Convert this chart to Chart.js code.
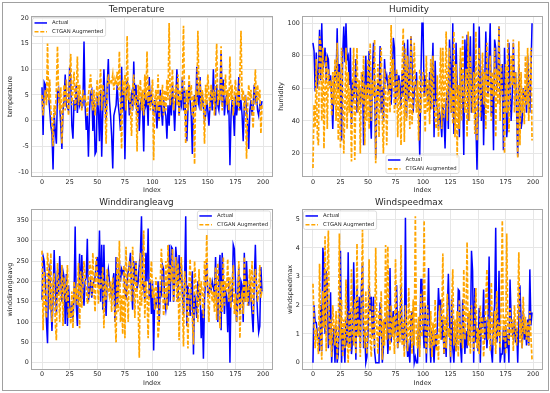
<!DOCTYPE html>
<html><head><meta charset="utf-8">
<script src="https://cdn.jsdelivr.net/npm/chart.js@4"></script>
<style>
html,body{margin:0;padding:0;background:#fff;}
body{width:550px;height:393px;position:relative;overflow:hidden;}
#frame{position:absolute;left:2px;top:2px;width:545px;height:387px;border:1px solid #a0a0a0;}
canvas{position:absolute;}
</style></head><body>
<div id="frame"></div>
<canvas id="c1" width="275" height="196" style="left:0;top:0"></canvas>
<canvas id="c2" width="275" height="196" style="left:275px;top:0"></canvas>
<canvas id="c3" width="275" height="197" style="left:0;top:196px"></canvas>
<canvas id="c4" width="275" height="197" style="left:275px;top:196px"></canvas>
<script>
const xTicks = [0, 25, 50, 75, 100, 125, 150, 175, 200];
const tempTicks = [-10, -5, 0, 5, 10, 15, 20];
const humTicks = [20, 40, 60, 80, 100];
const wdTicks = [0, 50, 100, 150, 200, 250, 300, 350];
const wsTicks = [0, 1, 2, 3, 4, 5];
const seriesNames = ['Actual', 'CTGAN Augmented'];

const tempActual = [
6.5,-2.8,7.5,7.0,4.5,5.0,4.8,2.0,-1.0,-2.5,
-9.5,1.5,-2.0,-4.5,5.5,6.2,3.0,-1.0,-5.5,2.0,
4.0,9.0,3.0,2.5,2.0,10.5,8.0,-1.0,-3.5,4.0,
2.0,7.0,1.5,5.0,3.0,4.0,2.5,3.0,15.4,3.0,
-1.8,1.0,-7.0,2.0,5.5,6.0,-2.0,4.0,-6.5,-6.0,
5.0,2.0,-4.0,6.0,-7.0,2.0,10.0,4.0,0.0,7.0,
12.0,4.0,1.0,-3.0,-9.3,1.0,2.0,3.0,7.0,3.0,
1.0,-2.0,10.5,2.0,6.0,-7.5,4.0,8.0,6.0,1.0,
3.5,5.0,2.0,11.5,4.0,7.0,1.0,5.0,-2.0,3.0,
4.5,2.0,-6.0,6.0,3.0,4.0,-1.0,8.5,3.0,5.0,
3.0,1.0,4.0,2.0,-1.5,3.0,0.0,6.0,2.0,-1.0,
4.0,2.0,1.0,-3.5,3.0,-1.0,5.0,1.0,7.0,3.0,
-2.0,4.0,10.0,6.0,1.0,4.0,3.0,8.5,2.0,6.0,
0.0,-4.0,2.0,7.0,4.0,1.0,-6.5,3.0,5.0,2.0,
10.5,4.0,3.0,8.5,2.0,5.0,3.0,0.0,1.0,4.0,
2.0,-1.0,3.0,6.0,2.0,10.0,4.0,1.0,7.0,3.0,
2.0,5.0,13.5,3.0,8.0,1.0,4.0,5.0,2.0,3.0,
-8.7,1.0,4.0,2.0,-3.0,5.0,1.0,3.0,8.5,2.0,
4.0,1.0,-4.0,3.0,5.0,2.0,0.0,-5.5,2.0,4.0,
1.0,3.0,7.0,4.0,5.0,2.0,1.0,3.0,2.5,3.8];
const tempGan = [
5.0,1.0,4.0,6.0,3.0,15.0,4.0,8.0,2.0,0.0,
-5.0,3.0,1.0,6.0,14.5,5.0,2.0,6.5,-4.5,3.0,
7.0,2.0,8.0,4.0,1.0,9.0,13.0,3.0,6.0,9.5,
2.0,5.0,12.5,3.0,7.0,4.0,2.0,6.0,4.0,5.0,
3.0,1.0,5.0,7.0,9.0,4.0,2.0,6.0,1.0,4.5,
8.0,3.0,6.0,10.0,2.0,7.0,5.0,3.0,-4.5,6.0,
9.0,7.0,8.0,7.5,9.0,6.0,8.0,7.0,9.5,6.0,
13.5,3.0,-5.5,8.0,5.0,9.0,2.0,16.5,4.0,7.0,
2.0,-3.0,6.0,9.0,3.0,5.0,-6.0,7.0,4.0,8.0,
2.0,6.0,1.0,9.0,4.0,13.5,3.0,7.0,2.0,5.0,
8.0,-7.7,4.0,6.0,2.0,9.0,0.0,5.0,3.0,7.0,
1.0,6.0,2.0,8.0,4.0,19.0,3.0,6.0,10.0,2.0,
5.0,7.0,3.0,9.0,1.0,6.0,4.0,8.0,18.5,3.0,
-4.5,6.0,2.0,9.0,4.0,7.0,1.0,5.0,-8.5,6.0,
3.0,17.5,5.0,8.0,2.0,6.0,4.0,-4.5,7.0,3.0,
9.0,5.0,2.0,7.0,4.0,6.0,1.0,8.0,15.0,3.0,
6.0,4.0,14.5,2.0,7.0,5.0,9.0,3.0,6.0,2.0,
12.5,4.0,7.0,1.0,5.0,8.0,3.0,6.0,2.0,9.0,
17.5,4.0,6.0,2.0,5.0,-7.4,3.0,7.0,4.0,6.0,
2.0,-1.5,5.0,10.0,3.0,7.0,4.0,6.0,-2.5,3.0];

const humActual = [
88,83,58,82,60,70,96,65,100,70,
78,85,64,80,78,62,68,55,35,60,
72,65,97,58,75,62,28,80,98,76,
100,78,80,62,85,38,65,55,60,78,
45,55,62,50,58,70,25,60,80,55,
62,83,45,29,70,88,62,17,50,65,
55,86,45,60,40,78,65,68,62,57,
70,50,65,91,85,50,70,55,68,62,
48,70,55,88,60,42,90,53,65,92,
75,45,58,62,70,55,48,18,65,100,
100,55,68,58,60,50,70,47,65,88,
30,77,52,48,35,45,40,30,50,42,
23,52,58,35,90,75,45,100,32,45,
88,60,53,30,78,70,55,19,90,65,
93,40,70,92,45,55,100,50,38,10,
45,98,60,40,72,25,60,95,70,55,
80,100,43,65,22,90,85,58,70,98,
50,65,75,22,85,62,30,40,88,60,
40,55,88,62,70,45,18,75,50,35,
40,60,55,58,45,80,60,45,70,100];
const humGan = [
11,50,36,78,30,25,92,88,40,85,
23,60,80,35,72,60,65,43,70,50,
78,40,88,28,70,23,85,60,20,48,
85,35,70,45,60,15,60,85,16,60,
85,45,65,20,70,50,80,25,62,40,
78,35,88,40,65,55,90,14,55,75,
30,65,85,40,20,72,60,25,55,68,
45,99,60,78,45,55,72,30,65,50,
25,72,97,27,85,40,80,65,35,92,
38,55,88,60,45,65,28,72,45,60,
70,52,33,80,45,65,38,78,47,80,
55,41,35,68,30,55,85,35,85,42,
60,95,40,70,85,45,60,38,95,30,
75,17,62,35,85,40,92,55,45,72,
30,95,40,80,60,45,70,32,95,28,
65,85,42,60,82,50,70,35,88,45,
62,80,40,70,55,85,30,72,50,98,
40,75,60,50,20,75,45,90,33,55,
80,62,90,45,70,55,17,89,25,70,
45,60,38,80,50,85,40,65,85,28];

const wdActual = [
155,262,250,205,100,48,220,235,150,78,
160,277,190,120,230,165,262,200,150,225,
210,95,218,90,190,140,110,150,100,170,
335,140,90,180,268,150,265,190,140,200,
210,305,150,180,200,160,190,200,210,240,
260,190,325,150,290,130,290,160,115,210,
230,200,180,160,200,220,100,260,140,180,
250,200,230,220,230,180,155,200,225,240,
270,180,130,250,200,250,180,200,240,270,
360,180,200,150,270,200,330,160,200,120,
200,30,160,140,150,200,100,180,170,240,
230,150,130,160,140,290,150,285,280,150,
200,285,250,150,265,200,245,170,120,200,
360,90,190,160,115,180,225,20,170,145,
110,200,150,180,60,130,10,155,210,245,
165,170,190,180,200,185,170,260,140,100,
220,265,80,270,200,120,180,160,75,200,
0,180,150,290,280,200,100,160,235,120,
200,190,100,270,150,250,180,140,200,160,
120,75,200,290,180,120,75,90,235,175];
const wdGan = [
275,80,225,140,110,270,230,130,270,100,
185,220,100,55,245,200,100,175,240,90,
210,180,150,240,110,125,95,175,85,200,
160,180,140,245,85,225,135,190,250,205,
185,145,155,250,230,165,270,180,125,260,
220,145,215,180,195,235,85,200,155,230,
180,165,200,125,210,170,110,50,260,125,
300,100,165,70,240,60,285,180,100,250,
230,150,285,200,110,250,170,140,12,270,
140,200,325,110,200,170,60,190,210,250,
160,185,130,210,170,60,95,200,280,205,
115,150,250,130,290,170,240,200,280,150,
200,260,150,245,55,200,260,150,40,225,
190,160,35,195,255,140,110,45,250,200,
160,100,230,140,200,170,110,250,185,315,
165,100,210,185,150,175,125,235,105,245,
160,85,200,125,260,140,200,175,255,150,
210,135,200,240,120,170,100,150,250,60,
155,170,120,260,150,200,140,180,230,150,
250,120,190,230,200,150,175,240,160,180];

const wsActual = [
0,2.0,1.4,1.4,1.0,0.8,0.4,2.0,0.4,4.0,
3.5,1.0,3.2,2.8,0.5,1.2,2.45,0.0,0.8,1.2,
0.0,1.3,0.0,0.3,1.5,3.9,0.0,1.2,0.7,0.0,
1.5,0.6,3.85,0.6,1.8,0.3,0.8,3.5,1.7,0.1,
2.6,1.0,2.3,0.5,2.6,3.5,0.5,1.2,0.0,0.2,
1.0,2.7,1.8,2.3,0.9,2.3,0.4,0.0,0.0,0.0,
0.0,2.1,1.5,0.0,0.5,1.5,1.2,1.8,0.3,1.0,
3.3,0.7,1.5,1.8,1.0,1.2,2.7,0.5,1.4,1.1,
2.7,0.8,1.2,0.5,5.05,0.8,0.2,0.5,0.0,1.5,
1.8,1.0,0.0,0.2,0.0,0.0,1.5,0.6,2.9,2.9,
1.2,0.5,2.0,0.0,1.4,3.3,1.0,0.0,1.1,0.6,
0.0,1.0,0.5,1.3,2.6,1.8,2.2,0.8,1.5,0.3,
1.0,0.2,1.8,3.1,1.5,0.0,2.2,0.5,0.0,1.0,
0.4,1.0,2.55,2.5,0.6,0.0,2.2,1.2,0.3,1.1,
0.5,1.6,1.0,0.8,3.9,3.2,0.0,2.6,0.7,1.2,
0.4,1.9,0.0,1.6,1.2,2.55,0.8,1.5,0.5,1.2,
3.7,1.0,0.4,0.0,1.5,2.0,4.7,0.7,1.2,3.2,
0.0,0.3,0.3,1.2,0.0,1.3,0.5,1.0,0.0,2.9,
1.6,1.2,0.8,1.5,0.7,1.2,0.0,1.6,2.7,1.5,
0.5,1.8,0.8,1.2,0.6,1.5,0.6,3.25,1.3,1.75];
const wsGan = [
2.75,1.5,0.5,1.2,0.8,0.3,3.45,1.0,0.1,2.5,
1.2,4.4,0.4,3.0,4.6,0.6,1.5,0.2,2.0,1.3,
0.6,1.8,0.1,1.0,4.5,0.8,2.2,0.2,1.5,0.5,
2.9,0.9,0.0,1.8,0.4,3.25,1.0,0.6,2.2,0.3,
4.15,0.9,1.5,0.2,2.0,4.65,1.2,0.5,2.5,0.3,
1.5,3.6,0.8,0.2,2.0,1.0,0.5,4.0,1.2,0.3,
1.8,0.9,2.5,0.1,1.5,0.6,4.1,0.8,4.05,1.2,
0.4,2.0,0.9,1.6,0.3,3.6,1.0,0.5,1.8,0.7,
4.1,0.6,1.5,0.2,2.0,1.1,0.4,2.6,0.8,1.8,
0.3,2.2,0.6,5.1,1.0,0.5,1.6,0.2,2.4,0.9,
1.5,4.95,0.8,0.3,2.0,1.2,0.5,1.8,0.2,1.4,
0.6,2.2,0.4,1.0,0.1,2.0,0.8,1.5,3.8,0.3,
1.6,0.5,2.4,0.9,1.2,0.2,2.0,3.25,0.6,1.5,
0.4,1.8,0.2,2.2,0.7,1.3,0.5,3.25,0.8,1.6,
4.2,0.6,1.8,0.3,2.0,1.0,0.4,1.5,2.6,0.5,
1.2,0.3,2.0,0.9,1.6,0.2,1.0,2.2,3.25,0.8,
1.5,0.4,2.8,1.0,0.6,1.8,0.3,2.5,0.9,1.4,
0.5,2.2,4.95,0.8,1.6,0.3,4.5,1.0,0.6,1.9,
0.9,1.5,0.4,2.0,1.2,0.6,1.8,3.85,0.7,1.5,
0.5,2.3,1.0,1.6,0.8,1.4,0.6,1.8,0.9,0.1];

const FONT = '"DejaVu Sans", sans-serif';
const TXT = '#262626';

const decoPlugin = {
  id: 'deco',
  afterDatasetsDraw(chart) {
    const ctx = chart.ctx, ca = chart.chartArea;
    ctx.save();
    ctx.strokeStyle = '#a8a8a8';
    ctx.lineWidth = 1;
    ctx.strokeRect(Math.round(ca.left) + 0.5, Math.round(ca.top) + 0.5,
                   Math.round(ca.right - ca.left) - 1, Math.round(ca.bottom - ca.top) - 1);
    const lg = chart.options.plugins.boxLegend;
    if (lg) {
      ctx.font = '5.3px ' + FONT;
      let tw = 0;
      seriesNames.forEach(n => { tw = Math.max(tw, ctx.measureText(n).width); });
      const w = 19.5 + tw + 2.5, h = 18.5;
      let x, y;
      if (lg.pos === 'ul') { x = ca.left + 1.5; y = ca.top + 2; }
      else if (lg.pos === 'ur') { x = ca.right - 2.5 - w; y = ca.top + 2; }
      else { x = (ca.left + ca.right) / 2 - w / 2; y = ca.bottom - 3.5 - h; }
      ctx.beginPath();
      if (ctx.roundRect) ctx.roundRect(x, y, w, h, 2); else ctx.rect(x, y, w, h);
      ctx.fillStyle = 'rgba(255,255,255,0.8)';
      ctx.fill();
      ctx.strokeStyle = '#d4d4d4';
      ctx.lineWidth = 0.8;
      ctx.stroke();
      const ds = chart.data.datasets;
      const rows = [5, 13.8];
      ds.forEach((d, i) => {
        const yy = y + rows[i];
        ctx.beginPath();
        ctx.setLineDash(d.borderDash || []);
        ctx.strokeStyle = d.borderColor;
        ctx.lineWidth = d.borderWidth;
        ctx.moveTo(x + 2, yy); ctx.lineTo(x + 14.5, yy);
        ctx.stroke();
        ctx.setLineDash([]);
        ctx.fillStyle = TXT;
        ctx.textBaseline = 'middle';
        ctx.textAlign = 'left';
        ctx.fillText(d.label, x + 19.5, yy);
      });
    }
    ctx.restore();
  }
};

function makePanel(id, cfg) {
  const pts = arr => arr.map((v, i) => ({x: i, y: v}));
  new Chart(document.getElementById(id), {
    type: 'line',
    data: {
      datasets: [
        {label: seriesNames[0], data: pts(cfg.actual), borderColor: '#0000ff', borderWidth: 1.5,
         pointRadius: 0, tension: 0, order: 1, fill: false},
        {label: seriesNames[1], data: pts(cfg.gan), borderColor: '#ffa500', borderWidth: 1.7,
         borderDash: [4, 1.8], pointRadius: 0, tension: 0, order: 0, fill: false}
      ]
    },
    options: {
      responsive: false, animation: false, devicePixelRatio: 1,
      layout: {padding: {left: 0, top: 0, right: cfg.padRight, bottom: 0}},
      plugins: {
        legend: {display: false}, tooltip: {enabled: false},
        title: {display: true, text: cfg.title, color: TXT,
                font: {family: FONT, size: 8.8, weight: 'normal', lineHeight: 1.2},
                padding: {top: cfg.titleTop, bottom: cfg.titleBottom}},
        boxLegend: {pos: cfg.legend}
      },
      scales: {
        x: {
          type: 'linear', min: -9.95, max: 208.95,
          afterBuildTicks: s => { s.ticks = xTicks.map(v => ({value: v})); },
          afterFit: s => { s.height = cfg.xHeight; },
          grid: {color: '#e6e6e6', lineWidth: 1, drawTicks: false},
          border: {display: false},
          ticks: {color: TXT, font: {family: FONT, size: 6.4, lineHeight: 1.2}, padding: cfg.xTickPad,
                  maxRotation: 0, autoSkip: false},
          title: {display: true, text: 'Index', color: TXT,
                  font: {family: FONT, size: 6.5, lineHeight: 1.2}, padding: {top: 0, bottom: cfg.xTitlePad}}
        },
        y: {
          type: 'linear', min: cfg.yMin, max: cfg.yMax,
          afterBuildTicks: s => { s.ticks = cfg.yTicks.map(v => ({value: v})); },
          afterFit: s => { s.width = cfg.yWidth; },
          grid: {color: '#e6e6e6', lineWidth: 1, drawTicks: false},
          border: {display: false},
          ticks: {color: TXT, font: {family: FONT, size: 6.4, lineHeight: 1.2}, padding: 2.2, autoSkip: false},
          title: {display: true, text: cfg.yTitle, color: TXT,
                  font: {family: FONT, size: 6.5, lineHeight: 1.2}, padding: {top: cfg.yTitlePad, bottom: 0}}
        }
      }
    },
    plugins: [decoPlugin]
  });
}

makePanel('c1', {title: 'Temperature', yTitle: 'temperature', actual: tempActual, gan: tempGan,
  yMin: -10.97, yMax: 20.39, yTicks: tempTicks, yWidth: 31, padRight: 2, xHeight: 19,
  titleTop: 4.5, titleBottom: 0.9, xTickPad: 1.2, xTitlePad: 2.1, yTitlePad: 6.1, legend: 'ul'});
makePanel('c2', {title: 'Humidity', yTitle: 'humidity', actual: humActual, gan: humGan,
  yMin: 5.5, yMax: 104.5, yTicks: humTicks, yWidth: 27, padRight: 7, xHeight: 19,
  titleTop: 4.5, titleBottom: 0.9, xTickPad: 1.2, xTitlePad: 2.1, yTitlePad: 2.1, legend: 'lc'});
makePanel('c3', {title: 'Winddirangleavg', yTitle: 'winddirangleavg', actual: wdActual, gan: wdGan,
  yMin: -18, yMax: 378, yTicks: wdTicks, yWidth: 31, padRight: 2, xHeight: 23,
  titleTop: 1.5, titleBottom: 0.9, xTickPad: 0.8, xTitlePad: 6.1, yTitlePad: 6.1, legend: 'ur'});
makePanel('c4', {title: 'Windspeedmax', yTitle: 'windspeedmax', actual: wsActual, gan: wsGan,
  yMin: -0.255, yMax: 5.355, yTicks: wsTicks, yWidth: 27, padRight: 7, xHeight: 23,
  titleTop: 1.5, titleBottom: 0.9, xTickPad: 0.8, xTitlePad: 6.1, yTitlePad: 11.1, legend: 'ul'});
</script>
</body></html>
